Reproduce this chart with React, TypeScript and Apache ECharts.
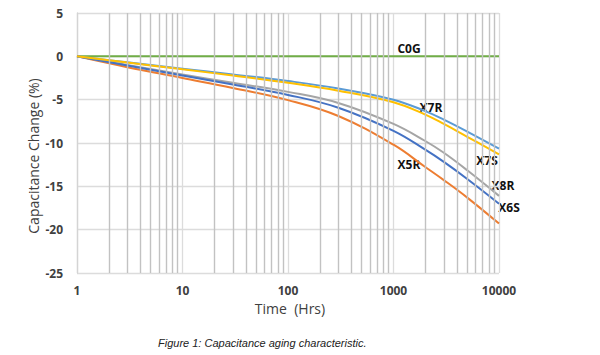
import React, { useEffect, useRef } from "react";
import * as echarts from "echarts";

const times = [1, 3, 10, 30, 100, 300, 1000, 2000, 3000, 5000, 10000];
const c0g = [0, 0, 0, 0, 0, 0, 0, 0, 0, 0, 0];
const x7r = [0, -0.69, -1.42, -2.09, -2.85, -3.71, -5.0, -6.32, -7.3, -8.68, -10.65];
const x7s = [0, -0.72, -1.5, -2.21, -3.05, -3.96, -5.3, -6.72, -7.8, -9.28, -11.3];
const x8r = [0, -1.0, -2.1, -3.05, -4.1, -5.38, -7.8, -9.77, -11.13, -13.15, -16.1];
const x6s = [0, -1.05, -2.2, -3.25, -4.45, -5.93, -8.6, -10.77, -12.18, -14.15, -17.0];
const x5r = [0, -1.25, -2.5, -3.65, -5.05, -6.88, -10.2, -12.77, -14.28, -16.3, -19.3];
const minorTimes = [2, 3, 4, 5, 6, 7, 8, 9, 20, 30, 40, 50, 60, 70, 80, 90, 200, 300, 400, 500, 600, 700, 800, 900, 2000, 3000, 4000, 5000, 6000, 7000, 8000, 9000];

const seriesDefs = [
  { name: "C0G", data: c0g, color: "#70AD47" },
  { name: "X5R", data: x5r, color: "#ED7D31" },
  { name: "X8R", data: x8r, color: "#A5A5A5" },
  { name: "X6S", data: x6s, color: "#4472C4" },
  { name: "X7R", data: x7r, color: "#5B9BD5" },
  { name: "X7S", data: x7s, color: "#FFC000" },
];

const labelTexts = [
  { t: "C0G", x: 409, y: 48 },
  { t: "X7R", x: 431, y: 107 },
  { t: "X7S", x: 487, y: 160 },
  { t: "X5R", x: 409, y: 164 },
  { t: "X8R", x: 503, y: 185 },
  { t: "X6S", x: 509, y: 207 },
];

export default function App() {
  const ref = useRef<HTMLDivElement>(null);
  useEffect(() => {
    if (!ref.current) return;
    const chart = echarts.init(ref.current, null, { renderer: "svg" });
    const font = "'Open Sans', sans-serif";
    const series: any[] = [
      {
        type: "line",
        name: "minor",
        data: [],
        silent: true,
        markLine: {
          silent: true,
          symbol: ["none", "none"],
          label: { show: false },
          lineStyle: { color: "#c2c2c2", width: 1.4, type: "solid" },
          data: minorTimes.map((t) => ({ xAxis: t })),
        },
      },
      ...seriesDefs.map((s) => ({
        type: "line",
        name: s.name,
        data: times.map((t, i) => [t, s.data[i]]),
        smooth: 0.4,
        showSymbol: false,
        lineStyle: { color: s.color, width: 2 },
        itemStyle: { color: s.color },
      })),
    ];
    chart.setOption({
      animation: false,
      grid: { left: 77, right: 101, top: 13, bottom: 82 },
      xAxis: {
        type: "log",
        logBase: 10,
        min: 1,
        max: 10000,
        axisLine: { show: false },
        axisTick: { show: false },
        splitLine: { show: true, lineStyle: { color: "#dcdcdc", width: 1.3 } },
        axisLabel: {
          color: "#404040",
          fontFamily: font,
          fontWeight: "bold",
          fontSize: 12,
          margin: 11,
          formatter: (v: number) => String(Math.round(v)),
        },
      },
      yAxis: {
        type: "value",
        min: -25,
        max: 5,
        interval: 5,
        axisLine: { show: true, lineStyle: { color: "#d4d4d4", width: 1.3 } },
        axisTick: { show: false },
        splitLine: { show: true, lineStyle: { color: "#dcdcdc", width: 1.3 } },
        axisLabel: { color: "#404040", fontFamily: font, fontWeight: "bold", fontSize: 12, margin: 14 },
      },
      series,
      graphic: [
        {
          type: "text",
          x: 33,
          y: 156,
          rotation: Math.PI / 2,
          style: {
            text: "Capacitance Change (%)",
            fontFamily: font,
            fontSize: 14,
            fill: "#404040",
            align: "center",
            verticalAlign: "middle",
          },
        },
        {
          type: "text",
          x: 290,
          y: 308,
          style: {
            text: "Time  (Hrs)",
            fontFamily: font,
            fontSize: 14,
            fill: "#404040",
            align: "center",
            verticalAlign: "middle",
          },
        },
        {
          type: "text",
          x: 158,
          y: 343,
          style: {
            text: "Figure 1: Capacitance aging characteristic.",
            fontFamily: "'Liberation Sans', Arial, sans-serif",
            fontStyle: "italic",
            fontSize: 11,
            fill: "#222222",
            align: "left",
            verticalAlign: "middle",
          },
        },
        ...labelTexts.map((l) => ({
          type: "text",
          x: l.x,
          y: l.y,
          style: {
            text: l.t,
            fontFamily: font,
            fontWeight: "bold",
            fontSize: 12,
            fill: "#111111",
            align: "center",
            verticalAlign: "middle",
          },
        })),
      ],
    });
    return () => chart.dispose();
  }, []);
  return (
    <div
      ref={ref}
      style={{ position: "fixed", left: 0, top: 0, width: 600, height: 355, background: "#ffffff" }}
    />
  );
}
